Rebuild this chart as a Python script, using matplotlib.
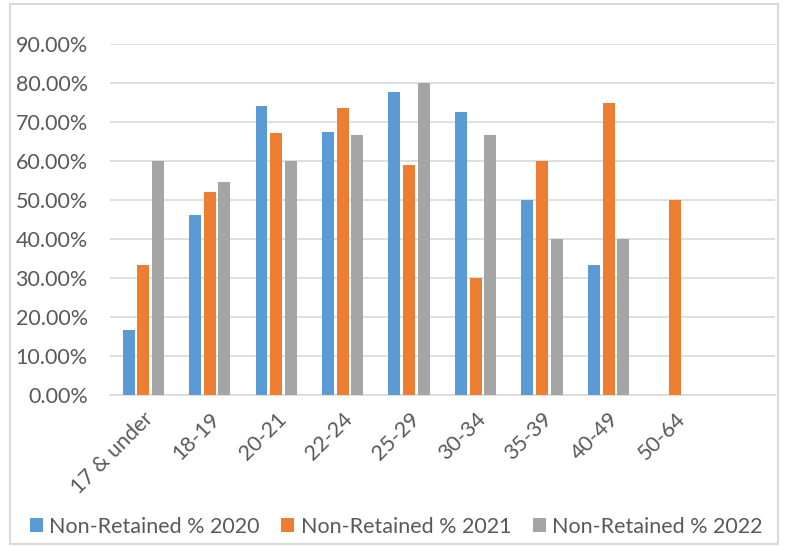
import matplotlib.pyplot as plt
import numpy as np
from matplotlib.patches import Rectangle

categories = ['17 & under', '18-19', '20-21', '22-24', '25-29', '30-34',
              '35-39', '40-49', '50-64', '']
nr_2020 = [0.1667, 0.4615, 0.7419, 0.675, 0.7778, 0.7273, 0.50, 0.3333, 0, 0]
nr_2021 = [0.3333, 0.52, 0.6724, 0.7368, 0.5897, 0.30, 0.60, 0.75, 0.50, 0]
nr_2022 = [0.60, 0.5476, 0.60, 0.6667, 0.80, 0.6667, 0.40, 0.40, 0, 0]
series_names = ['Non-Retained % 2020', 'Non-Retained % 2021', 'Non-Retained % 2022']
colors = ['#5B9BD5', '#ED7D31', '#A5A5A5']

plt.rcParams['font.family'] = ['Lato', 'DejaVu Sans']

fig = plt.figure(figsize=(7.85, 5.46), dpi=100)
ax = fig.add_axes([0.140, 0.2766, 0.847, 0.642])

x = np.arange(len(categories))
w = 0.18
step = 0.22
for i, (vals, name, c) in enumerate(zip([nr_2020, nr_2021, nr_2022], series_names, colors)):
    ax.bar(x + (i - 1) * step, vals, width=w, color=c, label=name, zorder=3)

ax.set_xlim(-0.5, len(categories) - 0.5)
ax.set_ylim(0, 0.9)
ax.set_yticks(np.arange(0, 0.91, 0.1))
ax.set_yticklabels([f'{v*100:.2f}%' for v in np.arange(0, 0.91, 0.1)])
ax.yaxis.grid(True, color='#D9D9D9', linewidth=1.2, zorder=0)
ax.set_xticks(x)
ax.set_xticklabels(categories, rotation=45, ha='right', va='top', rotation_mode='anchor')
ax.tick_params(axis='both', length=0, labelsize=15.5, colors='#595959')
ax.tick_params(axis='y', pad=16)
ax.tick_params(axis='x', pad=10)
for s in ['top', 'right', 'left']:
    ax.spines[s].set_visible(False)
ax.spines['bottom'].set_color('#D9D9D9')
ax.spines['bottom'].set_linewidth(1.2)

leg = fig.legend(loc='center', bbox_to_anchor=(0.505, 0.035), ncol=3, frameon=False,
                 fontsize=15.5, handlelength=0.6, handleheight=0.6, handletextpad=0.3,
                 columnspacing=1.0)
for t in leg.get_texts():
    t.set_color('#595959')

fig.patches.append(Rectangle((0.013, 0.003), 0.978, 0.99, transform=fig.transFigure,
                             fill=False, edgecolor='#D9D9D9', linewidth=1.5))

fig.savefig('out.png', dpi=100)
